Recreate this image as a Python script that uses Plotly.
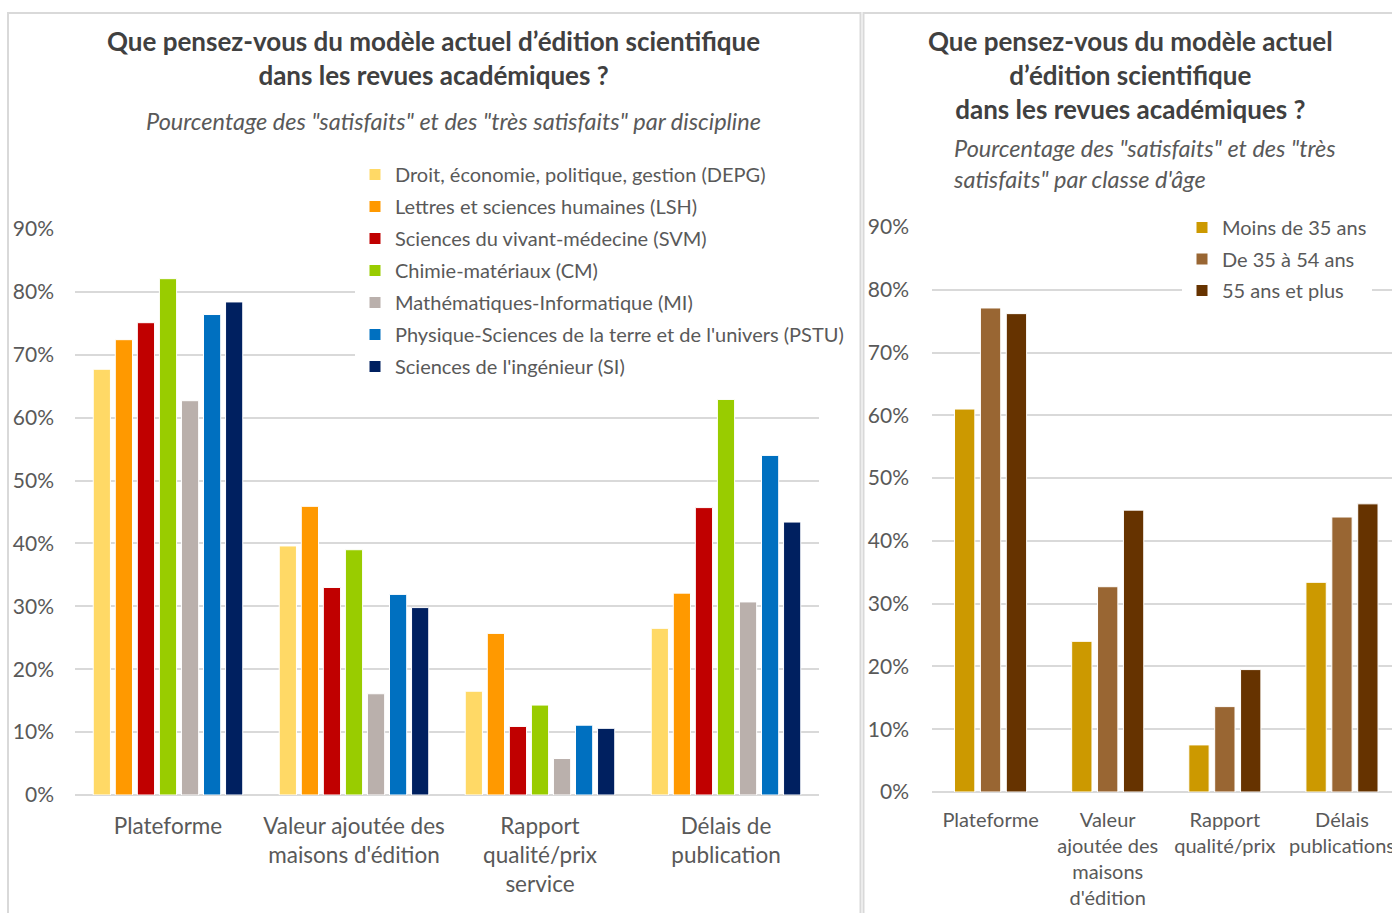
import plotly.graph_objects as go

W, H = 1392, 913

# --- donnees : graphique de gauche (par discipline) ---
categories_disc = ["Plateforme", "Valeur ajoutée des<br>maisons d'édition",
                   "Rapport<br>qualité/prix<br>service", "Délais de<br>publication"]
disciplines = ["Droit, économie, politique, gestion (DEPG)",
               "Lettres et sciences humaines (LSH)",
               "Sciences du vivant-médecine (SVM)",
               "Chimie-matériaux (CM)",
               "Mathématiques-Informatique (MI)",
               "Physique-Sciences de la terre et de l'univers (PSTU)",
               "Sciences de l'ingénieur (SI)"]
depg = [0.677, 0.396, 0.165, 0.265]
lsh = [0.724, 0.459, 0.257, 0.321]
svm = [0.751, 0.330, 0.109, 0.457]
cm = [0.821, 0.390, 0.143, 0.629]
mi = [0.627, 0.161, 0.058, 0.307]
pstu = [0.764, 0.319, 0.111, 0.540]
si = [0.784, 0.298, 0.106, 0.434]
colors_disc = ["#FFD966", "#FF9900", "#C00000", "#99CC00", "#BAB0AC", "#0070C0", "#002060"]

# --- donnees : graphique de droite (par classe d'age) ---
categories_age = ["Plateforme", "Valeur<br>ajoutée des<br>maisons<br>d'édition",
                  "Rapport<br>qualité/prix", "Délais<br>publications"]
ages = ["Moins de 35 ans", "De 35 à 54 ans", "55 ans et plus"]
moins_35 = [0.610, 0.240, 0.075, 0.334]
de_35_54 = [0.771, 0.327, 0.136, 0.438]
plus_55 = [0.762, 0.449, 0.195, 0.459]
colors_age = ["#CC9900", "#996633", "#663300"]

FONT = "Lato"
GREY_TXT = "#595959"
GRID = "#D9D9D9"

fig = go.Figure()

for name, vals, col in zip(disciplines, [depg, lsh, svm, cm, mi, pstu, si], colors_disc):
    fig.add_trace(go.Bar(
        x=categories_disc, y=vals, name=name,
        marker=dict(color=col, line=dict(color="white", width=1)),
        xaxis="x", yaxis="y", legend="legend", legendgroup=name,
        hoverinfo="skip"
    ))

# barres de droite : largeur et decalage fixes (les gaps de layout sont partages)
bw = 0.1735
centers = [-0.221, 0.0, 0.221]
for name, vals, col, c in zip(ages, [moins_35, de_35_54, plus_55], colors_age, centers):
    fig.add_trace(go.Bar(
        x=categories_age, y=vals, name=name,
        width=bw, offset=c - bw / 2,
        marker=dict(color=col, line=dict(color="white", width=1)),
        xaxis="x2", yaxis="y2", legend="legend2", legendgroup=name,
        hoverinfo="skip"
    ))

yaxis_common = dict(
    range=[0, 0.9], dtick=0.1, tickformat=".0%",
    showgrid=True, gridcolor=GRID, gridwidth=1.5,
    zeroline=True, zerolinecolor=GRID, zerolinewidth=2,
    showline=False, ticks="", fixedrange=True, automargin=False,
    tickfont=dict(family=FONT, size=21, color=GREY_TXT),
)

fig.update_layout(
    width=W, height=H,
    margin=dict(l=0, r=0, t=0, b=0),
    paper_bgcolor="white", plot_bgcolor="white",
    barmode="group", bargap=0.17, bargroupgap=0.22,
    font=dict(family=FONT, color=GREY_TXT),
    xaxis=dict(domain=[75 / W, 819 / W], range=[-0.5, 3.5], anchor="y",
               showgrid=False, showline=False, ticks="", ticklabelstandoff=15,
               automargin=False, fixedrange=True,
               tickfont=dict(family=FONT, size=22.5, color=GREY_TXT)),
    yaxis=dict(domain=[118 / H, 684 / H], anchor="x", ticklabelstandoff=20, **yaxis_common),
    xaxis2=dict(domain=[932 / W, 1.0], range=[-0.5, 3.427], anchor="y2",
                showgrid=False, showline=False, ticks="", ticklabelstandoff=14,
                automargin=False, fixedrange=True,
                tickfont=dict(family=FONT, size=20, color=GREY_TXT)),
    yaxis2=dict(domain=[121 / H, 686 / H], anchor="x2", ticklabelstandoff=22, **yaxis_common),
    legend=dict(x=355 / W, y=(H - 155) / H, xanchor="left", yanchor="top",
                bgcolor="white", tracegroupgap=3,
                font=dict(family=FONT, size=20, color=GREY_TXT)),
    legend2=dict(x=1182 / W, y=(H - 208) / H, xanchor="left", yanchor="top",
                 bgcolor="white", tracegroupgap=2.5,
                 font=dict(family=FONT, size=20, color=GREY_TXT)),
)

# cadres des deux graphiques
fig.add_shape(type="rect", xref="paper", yref="paper",
              x0=8 / W, x1=860.5 / W, y0=-0.02, y1=(H - 13) / H,
              line=dict(color=GRID, width=2), layer="below")
fig.add_shape(type="rect", xref="paper", yref="paper",
              x0=863.5 / W, x1=1.02, y0=-0.02, y1=(H - 13) / H,
              line=dict(color=GRID, width=2), layer="below")

# titres
fig.add_annotation(
    text="<b>Que pensez-vous du modèle actuel d’édition scientifique<br>dans les revues académiques ?</b>",
    xref="paper", yref="paper", x=433 / W, y=(H - 23) / H, xanchor="center", yanchor="top",
    showarrow=False, align="center",
    font=dict(family=FONT, size=26, color="#404040"))
fig.add_annotation(
    text="<i>Pourcentage des \"satisfaits\" et des \"très satisfaits\" par discipline</i>",
    xref="paper", yref="paper", x=454 / W, y=(H - 121) / H, xanchor="center", yanchor="middle",
    showarrow=False, font=dict(family=FONT, size=23.5, color=GREY_TXT))
fig.add_annotation(
    text="<b>Que pensez-vous du modèle actuel<br>d’édition scientifique<br>dans les revues académiques ?</b>",
    xref="paper", yref="paper", x=1130 / W, y=(H - 23) / H, xanchor="center", yanchor="top",
    showarrow=False, align="center",
    font=dict(family=FONT, size=26, color="#404040"))
fig.add_annotation(
    text="<i>Pourcentage des \"satisfaits\" et des \"très<br>satisfaits\" par classe d'âge</i>",
    xref="paper", yref="paper", x=951 / W, y=(H - 132) / H, xanchor="left", yanchor="top",
    showarrow=False, align="left",
    font=dict(family=FONT, size=23.5, color=GREY_TXT))

# la page sans marge pour que la figure occupe exactement la fenetre
fig.write_html("out.html", config={"displayModeBar": False},
               post_script="document.body.style.margin='0';document.body.style.overflow='hidden';")
